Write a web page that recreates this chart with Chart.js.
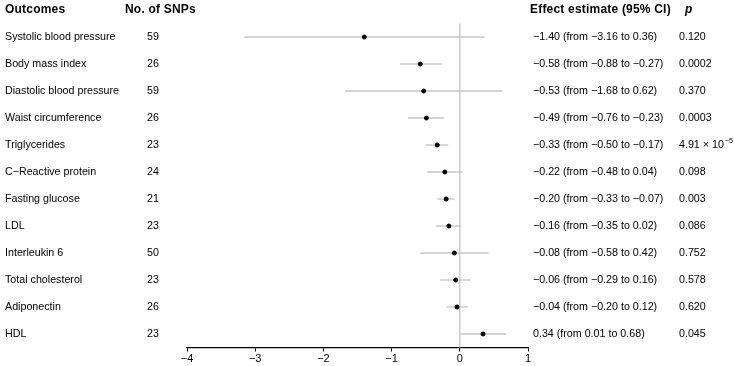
<!DOCTYPE html>
<html>
<head>
<meta charset="utf-8">
<script src="https://cdn.jsdelivr.net/npm/chart.js@4"></script>
<style>
  html, body { margin: 0; padding: 0; background: #fff; }
  #wrap { width: 734px; height: 366px; position: relative; }
</style>
</head>
<body>
<div id="wrap"><canvas id="forest"></canvas></div>
<script>
// forest plot data, one entry per row (top to bottom)
const outcomes = ['Systolic blood pressure', 'Body mass index', 'Diastolic blood pressure', 'Waist circumference',
  'Triglycerides', 'C\u2212Reactive protein', 'Fasting glucose', 'LDL', 'Interleukin 6', 'Total cholesterol',
  'Adiponectin', 'HDL'];
const snpCounts = [59, 26, 59, 26, 23, 24, 21, 23, 50, 23, 26, 23];
const estimates = [-1.40, -0.58, -0.53, -0.49, -0.33, -0.22, -0.20, -0.16, -0.08, -0.06, -0.04, 0.34];
const lowerCI = [-3.16, -0.88, -1.68, -0.76, -0.50, -0.48, -0.33, -0.35, -0.58, -0.29, -0.20, 0.01];
const upperCI = [0.36, -0.27, 0.62, -0.23, -0.17, 0.04, -0.07, 0.02, 0.42, 0.16, 0.12, 0.68];
const pValues = ['0.120', '0.0002', '0.370', '0.0003', '4.91 \u00d7 10^\u22125', '0.098', '0.003', '0.086',
  '0.752', '0.578', '0.620', '0.045'];
const xTicks = [-4, -3, -2, -1, 0, 1];

const FONT = '"Liberation Sans", Arial, sans-serif';
const fmt = v => (v < 0 ? '\u2212' : '') + Math.abs(v).toFixed(2);

// grey CI whiskers and the vertical line at zero
const ciLines = {
    id: 'ciLines',
    beforeDatasetsDraw(chart) {
        const { ctx, scales: { x, y } } = chart;
        ctx.save();
        ctx.strokeStyle = '#c4c4c4';
        ctx.lineWidth = 1.3;
        ctx.beginPath();
        ctx.moveTo(x.getPixelForValue(0), y.getPixelForValue(0.5));
        ctx.lineTo(x.getPixelForValue(0), y.getPixelForValue(12.5));
        ctx.stroke();
        lowerCI.forEach((lo, i) => {
            const py = y.getPixelForValue(i + 1);
            ctx.beginPath();
            ctx.moveTo(x.getPixelForValue(lo), py);
            ctx.lineTo(x.getPixelForValue(upperCI[i]), py);
            ctx.stroke();
        });
        ctx.restore();
    }
};

// text columns left and right of the plot
const tableText = {
    id: 'tableText',
    afterDraw(chart) {
        const { ctx, scales: { y } } = chart;
        ctx.save();
        ctx.fillStyle = '#000';
        ctx.textBaseline = 'middle';
        ctx.textAlign = 'left';

        const hy = y.getPixelForValue(0);
        ctx.font = 'bold 12px ' + FONT;
        ctx.letterSpacing = '0.2px';
        ctx.fillText('Outcomes', 5, hy);
        ctx.fillText('No. of SNPs', 125, hy);
        ctx.fillText('Effect estimate (95% CI)', 530, hy);
        ctx.font = 'italic bold 12px ' + FONT;
        ctx.fillText('p', 685, hy);
        ctx.letterSpacing = '0px';

        ctx.font = '10.7px ' + FONT;
        outcomes.forEach((name, i) => {
            const py = y.getPixelForValue(i + 1);
            ctx.fillText(name, 5, py);
            ctx.fillText(String(snpCounts[i]), 147, py);
            ctx.fillText(fmt(estimates[i]) + ' (from ' + fmt(lowerCI[i]) + ' to ' + fmt(upperCI[i]) + ')', 533, py);
            const parts = pValues[i].split('^');
            ctx.fillText(parts[0], 679, py);
            if (parts[1]) {
                const w = ctx.measureText(parts[0]).width;
                ctx.font = '7px ' + FONT;
                ctx.fillText(parts[1], 679 + w + 1, py - 4);
                ctx.font = '10.7px ' + FONT;
            }
        });
        ctx.restore();
    }
};

new Chart(document.getElementById('forest'), {
    type: 'scatter',
    data: {
        datasets: [{
            data: estimates.map((v, i) => ({ x: v, y: i + 1 })),
            backgroundColor: '#000',
            borderColor: '#000',
            pointRadius: 2,
            pointHoverRadius: 2
        }]
    },
    options: {
        responsive: true,
        maintainAspectRatio: false,
        animation: false,
        layout: { padding: { left: 187, right: 206, top: 0, bottom: 0 } },
        plugins: { legend: { display: false }, tooltip: { enabled: false } },
        scales: {
            x: {
                type: 'linear',
                min: -4,
                max: 1,
                afterBuildTicks: scale => { scale.ticks = xTicks.map(v => ({ value: v })); },
                afterFit: scale => { scale.height = 18.5; },
                grid: { display: true, drawOnChartArea: false, drawTicks: true, tickLength: 4, color: '#000', lineWidth: 1 },
                border: { display: true, color: '#000', width: 1.2 },
                ticks: {
                    color: '#000',
                    padding: 1,
                    font: { family: FONT, size: 11 },
                    callback: v => (v < 0 ? '\u2212' + Math.abs(v) : String(v))
                }
            },
            y: {
                type: 'linear',
                display: false,
                reverse: true,
                min: -0.26,
                max: 12.5
            }
        }
    },
    plugins: [ciLines, tableText]
});
</script>
</body>
</html>
